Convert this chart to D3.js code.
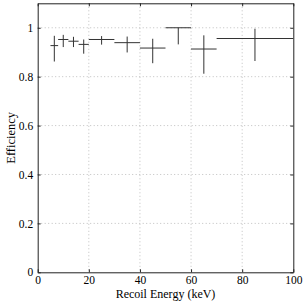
<!DOCTYPE html>
<html><head><meta charset="utf-8">
<script src="https://cdn.jsdelivr.net/npm/d3@7"></script>
<style>body{margin:0;background:#fff}svg{display:block}</style>
</head><body>
<svg id="c" width="306" height="303"></svg>
<script>
// bin edges (keV), efficiency, error bounds
const binLow  = [5, 8, 12, 16, 20, 30, 40, 50, 60, 70];
const binHigh = [8, 12, 16, 20, 30, 40, 50, 60, 70, 100];
const centers = [6.5, 10, 14, 18, 25, 35, 45, 55, 65, 85];
const eff     = [0.927, 0.952, 0.945, 0.932, 0.952, 0.939, 0.917, 1.0, 0.913, 0.956];
const errHi   = [0.967, 0.971, 0.963, 0.952, 0.966, 0.964, 0.955, 1.0, 0.969, 0.996];
const errLo   = [0.862, 0.921, 0.921, 0.894, 0.931, 0.899, 0.855, 0.932, 0.812, 0.864];
const xTicks = [0, 20, 40, 60, 80, 100];
const yTicks = [0, 0.2, 0.4, 0.6, 0.8, 1];
const yTickLabels = ["0", "0.2", "0.4", "0.6", "0.8", "1"];

const svg = d3.select("#c");
const L = 37.7, R = 293.3, T = 3.3, B = 272.3;
const x = d3.scaleLinear().domain([0, 100]).range([L, R]);
const y = d3.scaleLinear().domain([0, 1.1]).range([B, T]);
const FONT = '"Liberation Serif"';

// grid
const grid = svg.append("g").attr("stroke", "#b0b0b0").attr("stroke-width", 0.8).attr("stroke-dasharray", "1,2.5");
xTicks.filter(v => v > 0 && v < 100).forEach(v => {
  grid.append("line").attr("x1", x(v)).attr("x2", x(v)).attr("y1", T).attr("y2", B);
});
yTicks.filter(v => v > 0).forEach(v => {
  grid.append("line").attr("x1", L).attr("x2", R).attr("y1", y(v)).attr("y2", y(v));
});

// axes with inward ticks on all sides
const tickFmt = d => yTickLabels[yTicks.indexOf(d)];
const axB = svg.append("g").attr("transform", `translate(0,${B})`)
  .call(d3.axisBottom(x).tickValues(xTicks).tickSizeInner(-3).tickSizeOuter(0).tickPadding(4.5));
const axT = svg.append("g").attr("transform", `translate(0,${T})`)
  .call(d3.axisTop(x).tickValues(xTicks).tickSizeInner(-3).tickSizeOuter(0).tickFormat(""));
const axL = svg.append("g").attr("transform", `translate(${L},0)`)
  .call(d3.axisLeft(y).tickValues(yTicks).tickSizeInner(-3).tickSizeOuter(0).tickPadding(4.5).tickFormat(tickFmt));
const axR = svg.append("g").attr("transform", `translate(${R},0)`)
  .call(d3.axisRight(y).tickValues(yTicks).tickSizeInner(-3).tickSizeOuter(0).tickFormat(""));
[axB, axT, axL, axR].forEach(a => {
  a.attr("font-family", null).attr("font-size", null);
  a.select(".domain").attr("stroke", "#222");
  a.selectAll(".tick line").attr("stroke", "#222");
  a.selectAll("text").style("font-family", FONT).style("font-size", "11.5px").attr("fill", "#000");
});
axB.selectAll("text").attr("dy", "0.62em");

// data: horizontal bin widths and vertical error bars
const d = centers.map((c, i) => ({lo: binLow[i], hi: binHigh[i], c, v: eff[i], eh: errHi[i], el: errLo[i]}));
const marks = svg.append("g").attr("stroke", "#333").attr("stroke-width", 1);
marks.selectAll("line.h").data(d).join("line").attr("class", "h")
  .attr("x1", p => x(p.lo)).attr("x2", p => x(p.hi))
  .attr("y1", p => y(p.v)).attr("y2", p => y(p.v));
marks.selectAll("line.v").data(d).join("line").attr("class", "v")
  .attr("x1", p => x(p.c)).attr("x2", p => x(p.c))
  .attr("y1", p => y(p.eh)).attr("y2", p => y(p.el));

// labels
svg.append("text").attr("x", (L + R) / 2).attr("y", 297.5).attr("text-anchor", "middle")
  .style("font-family", FONT).style("font-size", "12px").text("Recoil Energy (keV)");
svg.append("text").attr("transform", `translate(15,${(T + B) / 2}) rotate(-90)`).attr("text-anchor", "middle")
  .style("font-family", FONT).style("font-size", "12.5px").text("Efficiency");
</script>
</body></html>
